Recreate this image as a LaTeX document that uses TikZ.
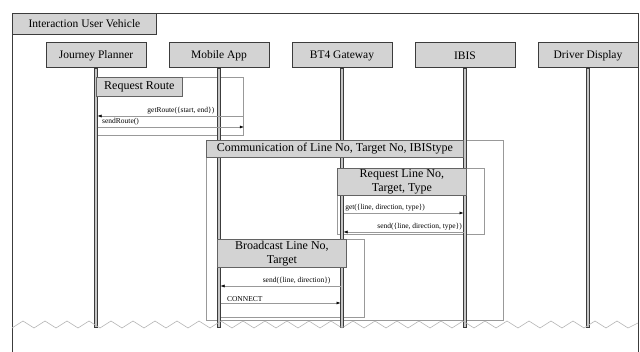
\documentclass[tikz,border=0pt]{standalone}
\usepackage{fontspec}
\setmainfont{Liberation Serif}
\usepackage{xcolor}
\usepackage{tikz}
\usetikzlibrary{positioning, arrows.meta}
\definecolor{headgray}{HTML}{D3D3D3}
\definecolor{edge}{HTML}{3C3C3C}
\definecolor{wire}{HTML}{999999}
\definecolor{tornline}{HTML}{B4B4B4}
\tikzset{
  frametab/.style={draw=edge, line width=0.9pt, fill=headgray, align=center, font=\fontsize{11.5}{13}\selectfont, inner sep=0pt, minimum width=144pt, minimum height=21pt, anchor=north west},
  lifehead/.style={draw=edge, line width=1pt, fill=headgray, align=center, font=\fontsize{11.5}{13}\selectfont, inner sep=0pt, minimum width=100pt, minimum height=25pt},
  lifeline/.style={draw=edge, line width=0.6pt, fill=gray!45, inner sep=0pt, minimum width=3pt, minimum height=259pt, outer sep=0pt},
  fragment/.style={draw=wire, line width=0.8pt, inner sep=0pt, anchor=north west},
  fragtab/.style={draw=edge!80, line width=0.8pt, fill=headgray, align=center, font=\fontsize{12}{13.5}\selectfont, inner sep=0pt, anchor=north west},
  msg/.style={-{Latex[length=4pt, width=3pt, color=black]}, line width=0.5pt, draw=wire},
  msglabel/.style={font=\fontsize{7.5}{8}\selectfont, inner sep=1.5pt, text=black},
  tear/.style={draw=tornline, line width=0.6pt},
}

\begin{document}
\begin{tikzpicture}[x=1pt, y=-1pt, node distance=22pt]
  \useasboundingbox (0,0) rectangle (640,352);
  % frame
  \draw[edge, line width=0.9pt] (12,352) -- (12,13) -- (638,13) -- (638,352);
  \node[frametab] (title) at (12,13) {Interaction User Vehicle};

  % lifeline heads
  \node[lifehead] (jp) at (96,55.5) {Journey Planner};
  \node[lifehead, right=of jp] (ma) {Mobile App};
  \node[lifehead, right=of ma] (bt) {BT4 Gateway};
  \node[lifehead, right=of bt] (ibis) {IBIS};
  \node[lifehead, right=of ibis] (dd) {Driver Display};

  % fragments
  \node[fragment, minimum width=147pt, minimum height=58pt] (rr) at (96,77) {};
  \node[fragment, minimum width=297pt, minimum height=180pt] (comm) at (206,140) {};
  \node[fragment, minimum width=147pt, minimum height=66pt] (req) at (337,168) {};
  \node[fragment, minimum width=147pt, minimum height=78pt] (bc) at (217,239) {};

  % lifelines
  \node[lifeline, below=0pt of jp] (jpline) {};
  \node[lifeline, below=0pt of ma] (maline) {};
  \node[lifeline, below=0pt of bt] (btline) {};
  \node[lifeline, below=0pt of ibis] (ibisline) {};
  \node[lifeline, below=0pt of dd] (ddline) {};

  % fragment tabs
  \node[fragtab, minimum width=86pt, minimum height=19pt] (rrtab) at (rr.north west) {Request Route};
  \node[fragtab, minimum width=257pt, minimum height=17pt] (commtab) at (comm.north west) {Communication of Line No, Target No, IBIStype};
  \node[fragtab, minimum width=129pt, minimum height=27pt] (reqtab) at (req.north west) {Request Line No,\\Target, Type};
  \node[fragtab, minimum width=129pt, minimum height=28pt] (bctab) at (bc.north west) {Broadcast Line No,\\Target};

  % torn edge
  \draw[tear] (12,328) \foreach \i in {1,...,28} { -- ++(11,-7) -- ++(11,7) } -- (638,323);

  % messages
  \draw[msg] (rr.east |- 0,116) -- node[msglabel, anchor=south east, pos=0.19] {getRoute(\{start, end\})} (jpline.east |- 0,116);
  \draw[msg] (jpline.east |- 0,127) -- node[msglabel, anchor=south west, pos=0.02] {sendRoute()} (rr.east |- 0,127);
  \draw[msg] (btline.east |- 0,213) -- node[msglabel, anchor=south west, pos=0.0] {get(\{line, direction, type\})} (ibisline.west |- 0,213);
  \draw[msg] (ibisline.west |- 0,232) -- node[msglabel, anchor=south east, pos=0.0] {send(\{line, direction, type\})} (btline.east |- 0,232);
  \draw[msg] (btline.west |- 0,286) -- node[msglabel, anchor=south east, pos=0.07] {send(\{line, direction\})} (maline.east |- 0,286);
  \draw[msg] (maline.east |- 0,303) -- node[msglabel, anchor=south west, pos=0.04] {CONNECT} (btline.west |- 0,303);
\end{tikzpicture}
\end{document}
